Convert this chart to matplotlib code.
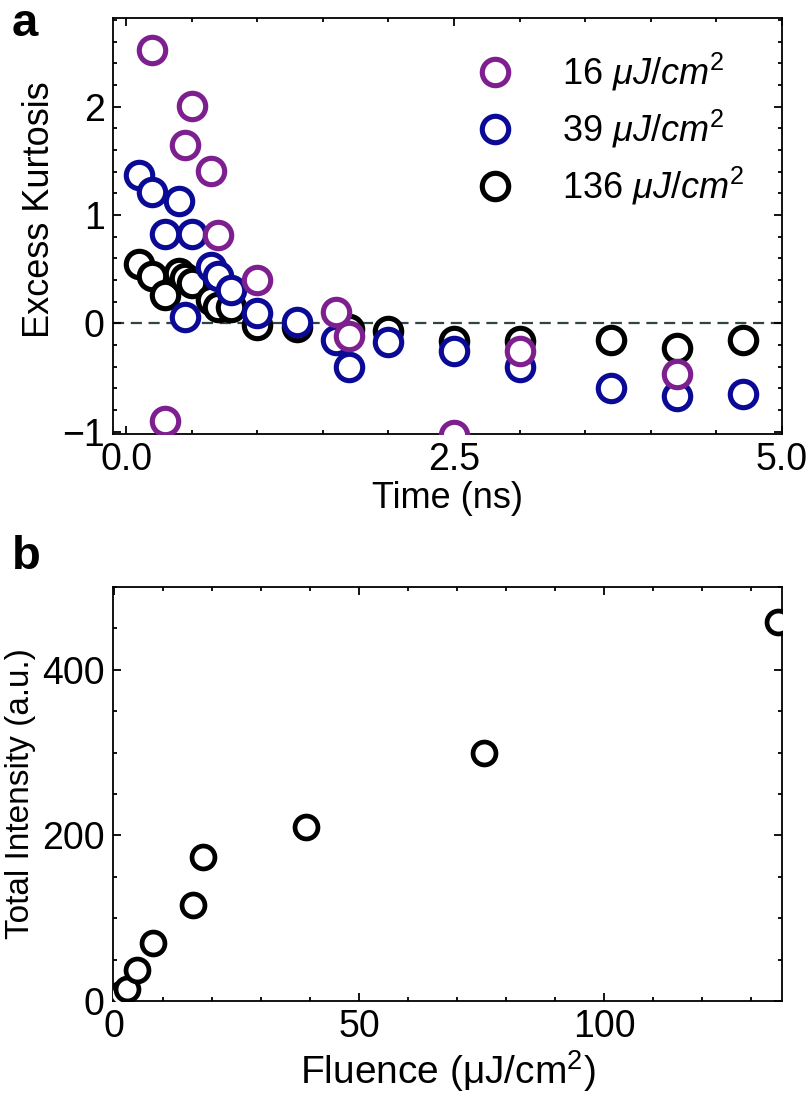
import matplotlib
matplotlib.use("Agg")
import matplotlib.pyplot as plt
from matplotlib.ticker import MultipleLocator

plt.rcParams['font.family'] = ['Liberation Sans', 'DejaVu Sans']
plt.rcParams['mathtext.fontset'] = 'custom'
plt.rcParams['mathtext.rm'] = 'Liberation Sans'
plt.rcParams['mathtext.it'] = 'Liberation Sans:italic'

# ---- Panel a data: excess kurtosis vs time (ns) ----
t_16 = [0.2, 0.3, 0.45, 0.5, 0.65, 0.7, 1.0, 1.6, 1.7, 2.5, 3.0, 4.2]
k_16 = [2.52, -0.90, 1.65, 2.01, 1.41, 0.82, 0.40, 0.11, -0.12, -1.03, -0.25, -0.47]

t_39 = [0.1, 0.2, 0.3, 0.4, 0.45, 0.5, 0.65, 0.7, 0.8, 1.0, 1.3, 1.6, 1.7, 2.0, 2.5, 3.0, 3.7, 4.2, 4.7]
k_39 = [1.37, 1.21, 0.83, 1.13, 0.06, 0.83, 0.52, 0.44, 0.31, 0.10, 0.01, -0.15, -0.40, -0.17, -0.25, -0.40, -0.60, -0.67, -0.65]

t_136 = [0.1, 0.2, 0.3, 0.4, 0.45, 0.5, 0.65, 0.7, 0.8, 1.0, 1.3, 1.7, 2.0, 2.5, 3.0, 3.7, 4.2, 4.7]
k_136 = [0.55, 0.44, 0.26, 0.47, 0.42, 0.37, 0.22, 0.15, 0.15, -0.01, -0.03, -0.05, -0.07, -0.16, -0.16, -0.15, -0.23, -0.15]

labels_a = [r'16 $\mu J/cm^2$', r'39 $\mu J/cm^2$', r'136 $\mu J/cm^2$']
colors_a = ['#7d1f8e', '#0a0a96', '#000000']

# ---- Panel b data: total intensity vs fluence ----
fluence = [1.5, 2.6, 4.6, 8.0, 16.1, 18.1, 39.1, 75.5, 135.5]
intensity = [8, 15, 37, 70, 116, 174, 210, 299, 458]

W, H = 810, 1098
fig = plt.figure(figsize=(W / 100, H / 100), dpi=100)

def px_axes(l, t, r, b):
    return fig.add_axes([l / W, 1 - b / H, (r - l) / W, (b - t) / H])

ax1 = px_axes(113, 18, 782, 434)
ax2 = px_axes(113, 587, 782, 1001)

# Panel a
ax1.axhline(0, color='#2f4444', lw=1.6, ls=(0, (5, 3)), zorder=1)
series = [(t_136, k_136, 2), (t_39, k_39, 1), (t_16, k_16, 0)]
handles = [None, None, None]
for tx, ky, idx in series:
    h, = ax1.plot(tx, ky, 'o', ms=19, mfc='white', mec=colors_a[idx], mew=3.7,
                  ls='none', label=labels_a[idx], zorder=3 + (2 - idx))
    handles[idx] = h
ax1.set_xlim(-0.1, 5.0)
ax1.set_ylim(-1.02, 2.82)
ax1.xaxis.set_major_locator(MultipleLocator(2.5))
ax1.xaxis.set_minor_locator(MultipleLocator(0.5))
ax1.yaxis.set_major_locator(MultipleLocator(1))
ax1.yaxis.set_minor_locator(MultipleLocator(0.2))
ax1.xaxis.set_major_formatter(matplotlib.ticker.FormatStrFormatter('%.1f'))
ax1.set_xlabel('Time (ns)', fontsize=26, labelpad=2)
ax1.set_ylabel('Excess Kurtosis', fontsize=26)
ax1.yaxis.set_label_coords(-0.083, 0.54)
leg = ax1.legend(handles=handles, loc='upper left', bbox_to_anchor=(0.517, 0.955),
                 frameon=False, fontsize=26, handletextpad=1.26, labelspacing=0.4,
                 handlelength=1.2, borderaxespad=0, borderpad=0.4)

# Panel b
ax2.plot(fluence, intensity, 'o', ms=16.5, mfc='white', mec='black', mew=3.4,
         ls='none', zorder=3)
ax2.set_xlim(-0.2, 136.3)
ax2.set_ylim(0, 500)
ax2.xaxis.set_major_locator(MultipleLocator(50))
ax2.xaxis.set_minor_locator(MultipleLocator(10))
ax2.yaxis.set_major_locator(MultipleLocator(200))
ax2.yaxis.set_minor_locator(MultipleLocator(50))
ax2.set_xlabel(r'Fluence (μJ/cm$^2$)', fontsize=28, labelpad=2)
ax2.set_ylabel('Total Intensity (a.u.)', fontsize=24, labelpad=4)

for ax in (ax1, ax2):
    ax.tick_params(which='both', direction='in', top=True, right=True,
                   labelsize=27, width=1.3, pad=6)
    ax.tick_params(which='major', length=6)
    ax.tick_params(which='minor', length=3)
    for s in ax.spines.values():
        s.set_linewidth(1.3)

fig.text(12 / W, 1 - 2 / H, 'a', fontsize=34, fontweight='bold', va='top', ha='left')
fig.text(12 / W, 1 - 535 / H, 'b', fontsize=34, fontweight='bold', va='top', ha='left')

fig.savefig('out.png', dpi=100)
